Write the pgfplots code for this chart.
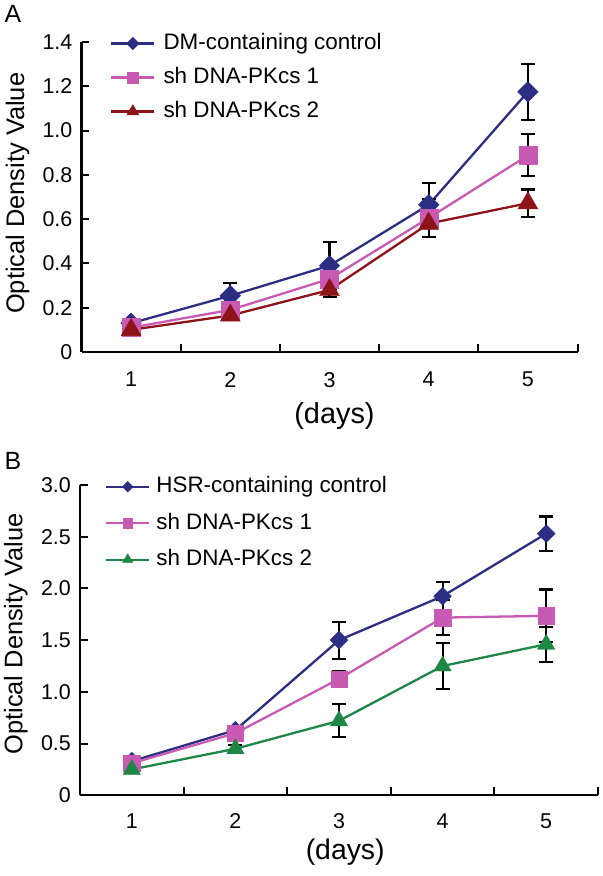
\documentclass[border=0pt]{standalone}
\usepackage{fontspec}
\setmainfont{Liberation Sans}
\usepackage{pgfplots}
\pgfplotsset{compat=1.18}

\definecolor{cblue}{RGB}{43,46,131}
\definecolor{cpink}{RGB}{200,90,180}
\definecolor{cred}{RGB}{140,20,25}
\definecolor{cgreen}{RGB}{30,135,70}

\pgfplotsset{
  odstyle/.style={
    scale only axis, clip=false,
    axis x line=bottom, axis y line=left,
    axis line style={-, line width=2bp, black},
    tick style={black, line width=2bp},
    tick align=inside, major tick length=8bp,
    xmin=0.5, xmax=5.5, ymin=0,
    xtick={0.5,1.5,2.5,3.5,4.5,5.5},
    xticklabels={1,2,3,4,5},
    x tick label as interval,
    tick label style={font=\fontsize{21.5}{21.5}\selectfont, inner sep=0pt},
    yticklabel style={xshift=-9bp},
    /pgf/number format/assume math mode=true,
    legend cell align=left,
    legend image code/.code={\draw[mark repeat=2,mark phase=2,##1,every mark/.append style={scale=0.6}] plot coordinates {(0bp,0bp) (21.5bp,0bp) (43bp,0bp)};},
    error bars/error bar style={black, line width=2.1bp},
    error bars/error mark options={black, line width=2.1bp, mark size=7bp, rotate=90},
  },
  errs/.style={error bars/.cd, y dir=both, y explicit},
}

\begin{document}
\begin{tikzpicture}
\path[use as bounding box] (0,0) rectangle (603bp,876bp);

\node[anchor=base west, font=\fontsize{25}{25}\selectfont, inner sep=0pt] at (4.5bp,853bp) {A};
\node[anchor=base west, font=\fontsize{25}{25}\selectfont, inner sep=0pt] at (4.5bp,406.5bp) {B};

% Panel A
\begin{axis}[odstyle,
  at={(81.5bp,524bp)}, anchor=south west,
  width=496bp, height=310bp,
  ymax=1.4,
  ytick={0,0.2,0.4,0.6,0.8,1.0,1.2,1.4},
  yticklabels={0,0.2,0.4,0.6,0.8,1.0,1.2,1.4},
  xticklabel style={yshift=-20bp},
  xlabel={(days)},
  xlabel style={font=\fontsize{29}{29}\selectfont, inner sep=0pt, at={(axis description cs:0.51,-0.206)}, anchor=center},
  ylabel={Optical Density Value},
  ylabel style={font=\fontsize{25.5}{25.5}\selectfont, inner sep=0pt, at={(axis description cs:-0.153,0.512)}, anchor=north},
  legend style={at={(axis description cs:0.0575,1.03)}, anchor=north west, draw=none, fill=none,
    font=\fontsize{22.5}{27}\selectfont, inner sep=0pt, row sep=12.9bp,
    nodes={inner sep=0pt, text height=16.4bp, text depth=4.7bp},
    /tikz/every odd column/.append style={column sep=8bp}},
]
\addplot[color=cblue, line width=2.3bp, mark=square*, mark size=7.3bp,
  mark options={rotate=45, fill=cblue, draw=cblue, line width=0.4bp}, errs]
  coordinates {(1,0.13) +- (0,0.01) (2,0.254) +- (0,0.057) (3,0.39) +- (0,0.105) (4,0.665) +- (0,0.097) (5,1.175) +- (0,0.127)};
\addlegendentry{DM-containing control}
\addplot[color=cpink, line width=2.3bp, mark=square*, mark size=9bp,
  mark options={fill=cpink, draw=cpink, line width=0.4bp}, errs]
  coordinates {(1,0.11) +- (0,0.01) (2,0.19) +- (0,0.02) (3,0.33) +- (0,0.033) (4,0.605) +- (0,0.087) (5,0.888) +- (0,0.095)};
\addlegendentry{sh DNA-PKcs 1}
\addplot[color=cred, line width=2.3bp, mark=triangle*, mark size=11.5bp,
  mark options={fill=cred, draw=cred, line width=0.4bp}, errs]
  coordinates {(1,0.10) +- (0,0.01) (2,0.165) +- (0,0.015) (3,0.28) +- (0,0.03) (4,0.58) +- (0,0.06) (5,0.672) +- (0,0.062)};
\addlegendentry{sh DNA-PKcs 2}
\end{axis}

% Panel B
\begin{axis}[odstyle,
  at={(80bp,80.7bp)}, anchor=south west,
  width=518bp, height=310.3bp,
  ymax=3.0,
  ytick={0,0.5,1.0,1.5,2.0,2.5,3.0},
  yticklabels={0,0.5,1.0,1.5,2.0,2.5,3.0},
  xticklabel style={yshift=-18.5bp},
  xlabel={(days)},
  xlabel style={font=\fontsize{28.5}{28.5}\selectfont, inner sep=0pt, at={(axis description cs:0.512,-0.184)}, anchor=center},
  ylabel={Optical Density Value},
  ylabel style={font=\fontsize{25.5}{25.5}\selectfont, inner sep=0pt, at={(axis description cs:-0.147,0.52)}, anchor=north},
  legend style={at={(axis description cs:0.048,1.029)}, anchor=north west, draw=none, fill=none,
    font=\fontsize{22.5}{27}\selectfont, inner sep=0pt, row sep=15.4bp,
    nodes={inner sep=0pt, text height=16.4bp, text depth=4.7bp},
    /tikz/every odd column/.append style={column sep=6bp}},
]
\addplot[color=cblue, line width=2.3bp, mark=square*, mark size=6.3bp,
  mark options={rotate=45, fill=cblue, draw=cblue, line width=0.4bp}, errs]
  coordinates {(1,0.33) +- (0,0.02) (2,0.63) +- (0,0.03) (3,1.5) +- (0,0.178) (4,1.925) +- (0,0.136) (5,2.53) +- (0,0.165)};
\addlegendentry{HSR-containing control}
\addplot[color=cpink, line width=2.3bp, mark=square*, mark size=8.2bp,
  mark options={fill=cpink, draw=cpink, line width=0.4bp}, errs]
  coordinates {(1,0.31) +- (0,0.02) (2,0.6) +- (0,0.03) (3,1.125) +- (0,0.08) (4,1.718) +- (0,0.17) (5,1.735) +- (0,0.255)};
\addlegendentry{sh DNA-PKcs 1}
\addplot[color=cgreen, line width=2.3bp, mark=triangle*, mark size=10bp,
  mark options={fill=cgreen, draw=cgreen, line width=0.4bp}, errs]
  coordinates {(1,0.25) +- (0,0.02) (2,0.45) +- (0,0.04) (3,0.72) +- (0,0.16) (4,1.25) +- (0,0.225) (5,1.46) +- (0,0.17)};
\addlegendentry{sh DNA-PKcs 2}
\end{axis}
\end{tikzpicture}
\end{document}
